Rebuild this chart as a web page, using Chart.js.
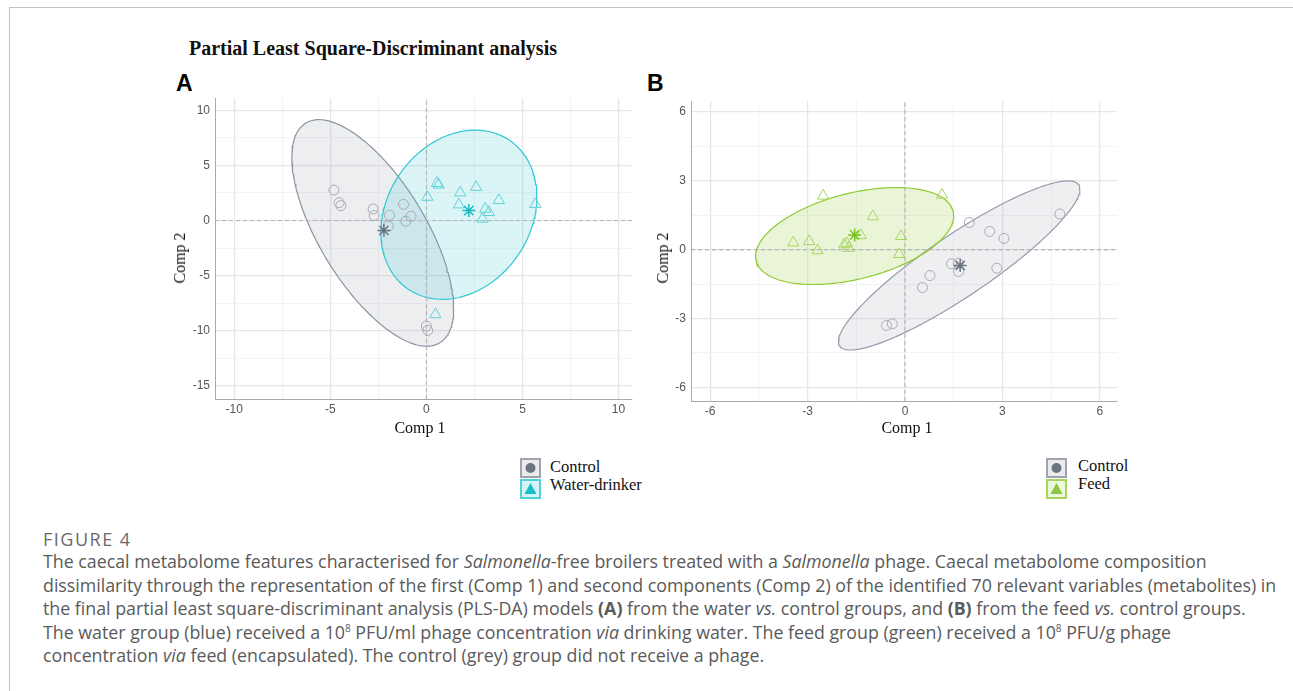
<!DOCTYPE html>
<html><head><meta charset="utf-8">
<script src="https://cdn.jsdelivr.net/npm/chart.js@4.4.1/dist/chart.umd.min.js"></script>
<style>
html,body{margin:0;padding:0;background:#fff;}
body{width:1293px;height:691px;position:relative;overflow:hidden;font-family:"Liberation Serif","Times New Roman",serif;}
.frame{position:absolute;left:9px;top:7px;width:1300px;height:700px;border-left:1px solid #c2c2c2;border-top:1px solid #c2c2c2;}
.abs{position:absolute;white-space:nowrap;}
.title{font-family:"Liberation Serif",serif;font-weight:bold;font-size:20px;line-height:20px;color:#111;}
.panel{font-family:"Liberation Sans",Arial,sans-serif;font-weight:bold;font-size:23px;line-height:23px;color:#000;}
.axt{font-family:"Liberation Serif",serif;font-size:16px;line-height:16px;color:#111;}
.leg{font-family:"Liberation Serif",serif;font-size:16.5px;line-height:18px;color:#111;}
.cap{font-family:"Open Sans",sans-serif;font-size:17.8px;line-height:23.5px;color:#5a5a5a;}
.fig{font-family:"Open Sans",sans-serif;font-size:18px;line-height:20px;color:#6a6a6a;letter-spacing:1.5px;}
.cap sup{font-size:10px;line-height:0;vertical-align:7px;}
.box{position:absolute;}
</style>
</head><body>
<div class="frame"></div>
<div class="abs title" style="left:189px;top:38px;">Partial Least Square-Discriminant analysis</div>
<div class="abs panel" style="left:176px;top:72px;">A</div>
<div class="abs panel" style="left:647px;top:72px;">B</div>

<div class="abs" style="left:160px;top:86px;width:480px;height:334px;"><canvas id="cA"></canvas></div>
<div class="abs" style="left:640px;top:89px;width:485px;height:331px;"><canvas id="cB"></canvas></div>

<div class="abs axt" style="left:420px;top:420px;transform:translateX(-50%);">Comp 1</div>
<div class="abs axt" style="left:907px;top:420px;transform:translateX(-50%);">Comp 1</div>
<div class="abs axt" style="left:180px;top:258px;transform:translate(-50%,-50%) rotate(-90deg);">Comp 2</div>
<div class="abs axt" style="left:663px;top:258px;transform:translate(-50%,-50%) rotate(-90deg);">Comp 2</div>

<svg class="box" style="left:520px;top:458px;" width="22" height="42">
  <rect x="1" y="1" width="19" height="18" fill="#ebebee" stroke="#9ea3ad" stroke-width="2"/>
  <circle cx="10.5" cy="10" r="5" fill="#6d7584"/>
  <rect x="1" y="22" width="19" height="18" fill="#d6f3f5" stroke="#4fd2da" stroke-width="2"/>
  <polygon points="10.5,25 16.5,36 4.5,36" fill="#17bfc9"/>
</svg>
<div class="abs leg" style="left:550px;top:458px;">Control</div>
<div class="abs leg" style="left:550px;top:476px;">Water-drinker</div>

<svg class="box" style="left:1046px;top:458px;" width="22" height="42">
  <rect x="1" y="1" width="19" height="18" fill="#ebebee" stroke="#9ea3ad" stroke-width="2"/>
  <circle cx="10.5" cy="10" r="5" fill="#6d7584"/>
  <rect x="1" y="22" width="19" height="18" fill="#edf7dc" stroke="#a3d65a" stroke-width="2"/>
  <polygon points="10.5,25 16.5,36 4.5,36" fill="#8cc63f"/>
</svg>
<div class="abs leg" style="left:1078px;top:457px;">Control</div>
<div class="abs leg" style="left:1078px;top:475px;">Feed</div>

<div class="abs fig" style="left:43px;top:529px;">FIGURE 4</div>
<div class="abs cap" style="left:43px;top:550px;">
The caecal metabolome features characterised for <i>Salmonella</i>-free broilers treated with a <i>Salmonella</i> phage. Caecal metabolome composition<br>
dissimilarity through the representation of the first (Comp 1) and second components (Comp 2) of the identified 70 relevant variables (metabolites) in<br>
the final partial least square-discriminant analysis (PLS-DA) models <b>(A)</b> from the water <i>vs.</i> control groups, and <b>(B)</b> from the feed <i>vs.</i> control groups.<br>
The water group (blue) received a 10<sup>8</sup> PFU/ml phage concentration <i>via</i> drinking water. The feed group (green) received a 10<sup>8</sup> PFU/g phage<br>
concentration <i>via</i> feed (encapsulated). The control (grey) group did not receive a phage.
</div>

<script>
// ---------- Panel A data (water-drinker vs control) ----------
const ctrlA_x = [-4.81,-4.54,-4.45,-2.77,-2.72,-1.92,-1.19,-0.80,-1.07,-1.99,0.00,0.07];
const ctrlA_y = [2.76,1.62,1.35,1.05,0.45,0.48,1.47,0.39,-0.06,-0.51,-9.58,-9.97];
const waterA_x = [0.05,0.55,0.64,1.76,2.59,1.69,3.77,5.67,3.06,3.25,2.92,0.47];
const waterA_y = [2.13,3.39,3.24,2.52,3.03,1.44,1.83,1.47,1.05,0.75,0.15,-8.53];
const centA_ctrl = [-2.21,-0.90];
const centA_water = [2.21,0.90];
// ellipse parameters: centre, half x-extent, half y-extent, phase
const ellA_ctrl = {cx:-2.79, cy:-1.13, a:4.21, b:10.28, phi:2.30};
const ellA_water = {cx:1.69, cy:0.525, a:4.06, b:7.68, phi:1.36};
const xMajA = [-10,-5,0,5,10], xMinA = [-7.5,-2.5,2.5,7.5];
const yMajA = [-15,-10,-5,0,5,10], yMinA = [-12.5,-7.5,-2.5,2.5,7.5];
const limA = {xmin:-11, xmax:10.7, ymin:-16.2, ymax:11.1};

// ---------- Panel B data (feed vs control) ----------
const ctrlB_x = [1.98,2.61,3.05,4.77,1.43,1.64,1.65,2.83,0.77,0.54,-0.57,-0.39];
const ctrlB_y = [1.18,0.79,0.49,1.55,-0.62,-0.59,-0.95,-0.81,-1.13,-1.65,-3.30,-3.23];
const feedB_x = [-2.52,1.14,-0.99,-3.44,-2.95,-2.69,-1.87,-1.79,-1.74,-1.36,-0.12,-0.18];
const feedB_y = [2.34,2.38,1.44,0.30,0.36,-0.04,0.22,0.27,0.07,0.62,0.58,-0.20];
const centB_ctrl = [1.70,-0.69];
const centB_feed = [-1.55,0.64];
const ellB_ctrl = {cx:1.67, cy:-0.69, a:3.72, b:3.68, phi:0.45};
const ellB_feed = {cx:-1.55, cy:0.59, a:3.05, b:2.11, phi:1.14};
const xMajB = [-6,-3,0,3,6], xMinB = [-4.5,-1.5,1.5,4.5];
const yMajB = [-6,-3,0,3,6], yMinB = [-4.5,-1.5,1.5,4.5];
const limB = {xmin:-6.59, xmax:6.53, ymin:-6.59, ymax:6.46};

Chart.defaults.font.family = '"Liberation Sans", Arial, sans-serif';

function pts(xs, ys){ return xs.map((x,i)=>({x:x, y:ys[i]})); }
function ellipse(p){
  const out=[];
  for(let i=0;i<=200;i++){ const t=i/200*2*Math.PI; out.push({x:p.cx+p.a*Math.cos(t), y:p.cy+p.b*Math.cos(t-p.phi)}); }
  return out;
}
function scaleCfg(maj, min, lo, hi, isX, fitSize){
  const all = maj.concat(min).sort((a,b)=>a-b);
  return {
    type:'linear', min:lo, max:hi,
    afterBuildTicks: ax => { ax.ticks = all.map(v=>({value:v})); },
    afterFit: ax => { if(isX) ax.height = fitSize; else ax.width = fitSize; },
    ticks:{ autoSkip:false, maxRotation:0, padding: isX?3:5, color:'#555555', font:{size:12},
      callback: v => maj.includes(v) ? String(v) : '' },
    grid:{ drawTicks:false, color: c => (c.tick && maj.includes(c.tick.value)) ? '#e6e6ea' : '#f3f3f4', lineWidth: c => (c.tick && maj.includes(c.tick.value)) ? 1.3 : 1 },
    border:{ display:true, color:'#a9a9a9', width:1 }
  };
}
function makeChart(id, cfg){
  const datasets = [
    {data:[{x:cfg.cent1[0],y:cfg.cent1[1]}], pointStyle:'star', pointRadius:6.5, borderWidth:1.5, borderColor:cfg.star1, backgroundColor:cfg.star1, order:0},
    {data:[{x:cfg.cent2[0],y:cfg.cent2[1]}], pointStyle:'star', pointRadius:6.5, borderWidth:1.5, borderColor:cfg.star2, backgroundColor:cfg.star2, order:0},
    {data:cfg.g1, pointStyle:'circle', pointRadius:5, borderWidth:1, borderColor:cfg.pt1, backgroundColor:'rgba(0,0,0,0)', order:1},
    {data:cfg.g2, pointStyle:'triangle', pointRadius:6.5, borderWidth:1, borderColor:cfg.pt2, backgroundColor:'rgba(0,0,0,0)', order:1},
    {data:[{x:0,y:cfg.lim.ymin},{x:0,y:cfg.lim.ymax}], showLine:true, pointRadius:0, borderColor:'#b5b5b5', borderWidth:1.1, borderDash:[4,3], order:5},
    {data:[{x:cfg.lim.xmin,y:0},{x:cfg.lim.xmax,y:0}], showLine:true, pointRadius:0, borderColor:'#b5b5b5', borderWidth:1.1, borderDash:[4,3], order:5},
    {data:ellipse(cfg.e2), showLine:true, pointRadius:0, tension:0, borderColor:cfg.e2c, borderWidth:1.2, backgroundColor:cfg.e2f, fill:'shape', order:10},
    {data:ellipse(cfg.e1), showLine:true, pointRadius:0, tension:0, borderColor:cfg.e1c, borderWidth:1.2, backgroundColor:cfg.e1f, fill:'shape', order:11}
  ];
  return new Chart(document.getElementById(id), {
    type:'scatter',
    data:{datasets},
    options:{
      responsive:true, maintainAspectRatio:false, animation:false,
      layout:{padding:{top:10, right:7, left:0, bottom:0}},
      plugins:{legend:{display:false}, tooltip:{enabled:false}},
      scales:{
        x: scaleCfg(cfg.xMaj, cfg.xMin, cfg.lim.xmin, cfg.lim.xmax, true, cfg.xh),
        y: scaleCfg(cfg.yMaj, cfg.yMin, cfg.lim.ymin, cfg.lim.ymax, false, cfg.yw)
      }
    }
  });
}
makeChart('cA', {
  g1:pts(ctrlA_x, ctrlA_y), g2:pts(waterA_x, waterA_y), cent1:centA_ctrl, cent2:centA_water,
  e1:ellA_ctrl, e2:ellA_water, lim:limA, xMaj:xMajA, xMin:xMinA, yMaj:yMajA, yMin:yMinA, xh:21, yw:55,
  pt1:'#a6a9b1', pt2:'#5fd1d9', star1:'#6b7483', star2:'#18b9c4',
  e1c:'#8d93a1', e1f:'rgba(175,178,186,0.22)', e2c:'#2fc8d2', e2f:'rgba(40,195,210,0.17)'
});
makeChart('cB', {
  g1:pts(ctrlB_x, ctrlB_y), g2:pts(feedB_x, feedB_y), cent1:centB_ctrl, cent2:centB_feed,
  e1:ellB_ctrl, e2:ellB_feed, lim:limB, xMaj:xMajB, xMin:xMinB, yMaj:yMajB, yMin:yMinB, xh:19, yw:51,
  pt1:'#a6a9b1', pt2:'#a5d65e', star1:'#6b7483', star2:'#7cc322',
  e1c:'#959cab', e1f:'rgba(180,184,195,0.22)', e2c:'#8fca30', e2f:'rgba(150,205,60,0.2)'
});
</script>
</body></html>
